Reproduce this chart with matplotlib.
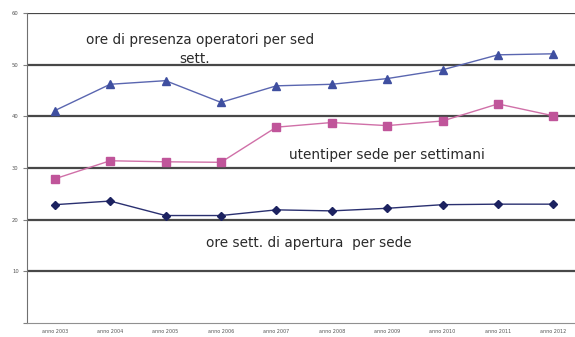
import numpy as np
import matplotlib
matplotlib.use('agg')
import matplotlib.pyplot as plt

years = ['anno 2003', 'anno 2004', 'anno 2005', 'anno 2006', 'anno 2007',
         'anno 2008', 'anno 2009', 'anno 2010', 'anno 2011', 'anno 2012']
ore_presenza = [41.1, 46.2, 46.9, 42.7, 45.9, 46.2, 47.3, 49.0, 51.9, 52.1]
utenti = [27.9, 31.4, 31.2, 31.1, 37.9, 38.8, 38.2, 39.1, 42.4, 40.1]
ore_apertura = [22.9, 23.6, 20.8, 20.8, 21.9, 21.7, 22.2, 22.9, 23.0, 23.0]
yticks = [0, 10, 20, 30, 40, 50, 60]

plt.rcParams['font.family'] = ['DejaVu Sans']

fig = plt.figure(figsize=(5.75, 3.37), dpi=100)
ax = fig.add_axes([0.047, 0.0415, 0.9635, 0.92])
x = np.arange(len(years))

for y in yticks[1:]:
    ax.axhline(y, color='#484848', linewidth=1.6, zorder=1)

ax.plot(x, ore_presenza, color='#5a66b0', linewidth=1.0, marker='^',
        markersize=6, markerfacecolor='#3f4fa0', markeredgecolor='#3f4fa0', zorder=3)
ax.plot(x, utenti, color='#d070a8', linewidth=1.0, marker='s',
        markersize=5.5, markerfacecolor='#c0559a', markeredgecolor='#c0559a', zorder=3)
ax.plot(x, ore_apertura, color='#2a3070', linewidth=1.0, marker='D',
        markersize=4.5, markerfacecolor='#1c2260', markeredgecolor='#1c2260', zorder=3)

txt = dict(fontsize=9.8, ha='center', va='center', color='#2a2a2a')
ax.text(2.63, 54.7, 'ore di presenza operatori per sed', **txt)
ax.text(2.52, 51.1, 'sett.', **txt)
ax.text(5.99, 32.5, 'utentiper sede per settimani', **txt)
ax.text(4.58, 15.5, 'ore sett. di apertura  per sede', **txt)

ax.set_xlim(-0.5, 9.5)
ax.set_ylim(0, 60)
ax.set_xticks(x)
ax.set_xticklabels(years, fontsize=3.5, color='#555555')
ax.set_yticks(yticks)
ax.set_yticklabels([''] + [str(v) for v in yticks[1:]], fontsize=3.8, color='#555555')
ax.tick_params(axis='x', length=0, pad=4)
ax.tick_params(axis='y', length=3, width=0.8, color='#808080', pad=3)

for side in ['top', 'right']:
    ax.spines[side].set_visible(False)
ax.spines['left'].set_color('#707070')
ax.spines['bottom'].set_color('#909090')

plt.savefig('out.png', dpi=100)
